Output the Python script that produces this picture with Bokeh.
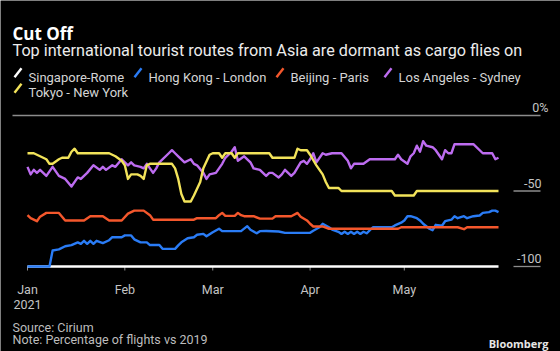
from bokeh.plotting import figure
from bokeh.models import Range1d, Label
from bokeh.embed import file_html
from bokeh.resources import INLINE
import pandas as pd

# ---------------- data (days since 2021-01-01, % of flights vs 2019 minus 100) -------------
base_date = "2021-01-01"

singapore_day = [0, 150]
singapore_val = [-100, -100]

hk_day = [0, 7, 8, 10, 12, 14, 16, 17, 18, 19, 20, 21, 22, 24, 26, 27, 30, 31, 33, 34, 36, 38,
          39, 42, 43, 47, 48, 49, 51, 53, 54, 56, 57, 59, 61, 62, 68, 70, 71, 73, 74, 76, 80, 82,
          90, 91, 93, 94, 96, 97, 99, 100, 101, 102, 103, 104, 105, 106, 107, 108, 110, 116, 117,
          119, 120, 121, 122, 124, 125, 126, 128, 129, 130, 132, 133, 135, 136, 137, 139, 140,
          142, 144, 145, 147, 148, 149, 150]
hk_val = [-100, -100, -89.4, -88.7, -86.6, -85.8, -84, -85, -83, -85, -83, -85, -83, -84.5,
          -82.6, -80.6, -80.6, -79.4, -79.4, -82, -84, -84, -85.8, -85.8, -88.3, -88.3, -86,
          -84, -81.3, -80.6, -79, -78.4, -80, -77.3, -75, -76.6, -76.6, -73.3, -75.7, -78,
          -76.6, -76.5, -76.8, -77.7, -77.7, -76.3, -74, -71.7, -74, -75.5, -77, -78.4, -77,
          -78.4, -77, -78.4, -77, -78.4, -77, -78, -74, -74, -72.8, -71, -69.5, -66.7, -66.7,
          -68, -69.5, -71.7, -75, -76, -72.4, -73, -70, -69, -66.7, -68, -66.7, -68, -66.7,
          -66.2, -64.5, -64, -63, -63, -64]

beijing_day = [0, 1, 3, 4, 6, 10, 11, 12, 18, 20, 24, 26, 30, 32, 34, 37, 39, 40, 53, 54, 60,
               61, 62, 63, 66, 67, 68, 69, 72, 74, 78, 79, 84, 86, 87, 89, 90, 91, 94, 96, 118,
               119, 137, 139, 140, 150]
beijing_val = [-66, -68, -70, -67, -64.5, -64.5, -67, -69.5, -69.5, -66.7, -66.7, -69.5, -69.5,
               -65, -63, -63, -66, -69, -69, -68, -68, -66, -64.5, -66.5, -66.5, -64.5, -66,
               -66.7, -66.7, -68.3, -68.3, -66.7, -66.7, -64.5, -67, -69.5, -71.7, -73.5, -73.5,
               -75, -75, -74, -74, -75.3, -74, -74]

la_day = [0, 1, 2, 3, 4, 6, 7, 8, 10, 12, 14, 16, 17, 19, 21, 23, 24, 25, 27, 28, 30, 32, 33,
          34, 36, 37, 38, 40, 41, 42, 45, 46, 47, 48, 50, 52, 53, 54, 56, 57, 58, 60, 62, 63,
          65, 66, 67, 69, 71, 72, 74, 76, 77, 78, 80, 81, 82, 84, 85, 87, 88, 89, 90, 91, 92,
          94, 95, 97, 100, 102, 103, 104, 107, 109, 117, 118, 119, 121, 122, 123, 124, 125,
          126, 127, 129, 130, 132, 133, 134, 135, 136, 142, 145, 148, 149, 150]
la_val = [-34, -39, -36, -38, -36, -40, -37, -34, -40, -42, -47, -41, -42, -38, -33, -36, -34,
          -36, -33, -34, -29, -33, -31, -33, -34, -35, -32, -38, -35, -31, -25, -23, -25, -27,
          -31, -29, -32, -33, -38, -42, -39, -38, -32, -28, -24, -21, -30, -27, -31, -35, -36,
          -40, -38, -38, -41, -39, -36, -40, -38, -31, -30, -32, -29, -25, -31, -25, -26, -25,
          -25, -30, -35, -32, -32, -29, -29, -26, -29, -32, -27, -25, -20, -24, -17, -20, -21,
          -23, -29, -23, -25, -25, -19, -19, -25, -25, -29, -28]

tokyo_day = [0, 2, 4, 6, 7, 8, 10, 11, 13, 14, 15, 16, 26, 28, 30, 31, 32, 33, 35, 36, 37, 38,
             39, 46, 47, 48, 49, 50, 52, 53, 55, 56, 58, 59, 61, 62, 63, 65, 66, 67, 77, 78,
             85, 86, 87, 89, 90, 92, 94, 95, 96, 99, 100, 116, 117, 123, 124, 150]
tokyo_val = [-25, -25, -27, -29, -32, -32, -29, -28, -28, -24, -22, -25, -25, -27, -30, -33,
             -42, -39, -39, -40, -42, -33, -32, -32, -35, -42, -52, -57, -57, -53, -44, -35,
             -26, -25, -25, -28, -25, -25, -28, -25, -25, -28, -28, -22, -23, -23, -26, -33,
             -39, -44, -48, -48, -50, -50, -53, -53, -50, -50]

series_names = ["Singapore-Rome", "Hong Kong - London", "Beijing - Paris",
                "Los Angeles - Sydney", "Tokyo - New York"]
series_colors = ["#ffffff", "#2a7cf6", "#f4572c", "#bd6cf0", "#f2e35a"]
series_days = [singapore_day, hk_day, beijing_day, la_day, tokyo_day]
series_vals = [singapore_val, hk_val, beijing_val, la_val, tokyo_val]

month_starts = ["2021-01-01", "2021-02-01", "2021-03-01", "2021-04-01", "2021-05-01"]
month_labels = ["Jan", "Feb", "Mar", "Apr", "May"]
year_label = "2021"
y_ticks = [0, -50, -100]
y_tick_labels = ["0%", "-50", "-100"]

title = "Cut Off"
subtitle = "Top international tourist routes from Asia are dormant as cargo flies on"
source = "Source: Cirium"
note = "Note: Percentage of flights vs 2019"
brand = "Bloomberg"

# ---------------- layout helpers (pixel -> data for text placement) ----------------
W, H = 560, 351
PX_PER_DAY = 3.14
X0_PX = 27
PX_PER_PCT = 1.51
Y0_PX = 115


def X(px):
    return (px - X0_PX) / PX_PER_DAY


def Y(py):
    return (Y0_PX - py) / PX_PER_PCT


FONT = "Roboto"
BOLD_FONT = "Open Sans"

p = figure(width=W, height=H, output_backend="svg", toolbar_location=None,
           x_axis_type=None, y_axis_type=None,
           x_range=Range1d(X(0), X(W)), y_range=Range1d(Y(H), Y(0)),
           min_border=0, background_fill_color="black", border_fill_color="black",
           outline_line_color=None)
p.grid.visible = False

# zero gridline and right-hand tick stubs
p.segment(x0=[X(12)], x1=[X(540)], y0=[y_ticks[0]], y1=[y_ticks[0]],
          line_color="#8c8c8c", line_width=1.3)
p.segment(x0=[X(513)] * 2, x1=[X(540)] * 2, y0=y_ticks[1:], y1=y_ticks[1:],
          line_color="#8c8c8c", line_width=1.3)
for yv, lab in zip(y_ticks, y_tick_labels):
    right = 548 if lab.endswith("%") else 541
    p.add_layout(Label(x=X(right), y=yv, text=lab, text_align="right",
                       text_baseline="alphabetic", y_offset=8,
                       text_color="#c4c4c4", text_font=FONT, text_font_size="12.5px"))

# month ticks + labels
base = pd.Timestamp(base_date)
month_days = [(pd.Timestamp(m) - base).days for m in month_starts]
p.segment(x0=month_days, x1=month_days, y0=[-100] * 5, y1=[Y(270)] * 5,
          line_color="#8c8c8c", line_width=1)
for d, lab in zip(month_days, month_labels):
    p.add_layout(Label(x=d, y=Y(289), text=lab, text_align="center",
                       text_baseline="alphabetic", text_color="#c4c4c4",
                       text_font=FONT, text_font_size="12.5px"))
p.add_layout(Label(x=month_days[0], y=Y(304), text=year_label, text_align="center",
                   text_baseline="alphabetic", text_color="#c4c4c4",
                   text_font=FONT, text_font_size="12.5px"))

# series
for d, v, c in zip(series_days, series_vals, series_colors):
    p.line(d, v, line_color=c, line_width=2.4, line_join="round")

# titles
p.add_layout(Label(x=X(12), y=Y(32.7), text=title, text_baseline="alphabetic",
                   text_color="#ffffff", text_font=BOLD_FONT, text_font_style="bold",
                   text_font_size="17px"))
p.add_layout(Label(x=X(12), y=Y(50), text=subtitle, text_baseline="alphabetic",
                   text_color="#ececec", text_font=FONT, text_font_size="16.2px"))

# legend (custom, Bloomberg style slash keys)
legend_pos = [(28, 76.7), (148, 76.7), (290, 76.7), (398, 76.7), (28, 92.3)]
for (tx, by), name, c in zip(legend_pos, series_names, series_colors):
    p.segment(x0=[X(tx - 14)], y0=[Y(by)], x1=[X(tx - 7)], y1=[Y(by - 9)],
              line_color=c, line_width=2.4)
    p.add_layout(Label(x=X(tx), y=Y(by), text=name, text_baseline="alphabetic",
                       text_color="#d4d4d4", text_font=FONT, text_font_size="13px"))

# footer
p.add_layout(Label(x=X(12), y=Y(327), text=source, text_baseline="alphabetic",
                   text_color="#bdbdbd", text_font=FONT, text_font_size="12.5px"))
p.add_layout(Label(x=X(12), y=Y(338.5), text=note, text_baseline="alphabetic",
                   text_color="#bdbdbd", text_font=FONT, text_font_size="12.5px"))
p.add_layout(Label(x=X(548), y=Y(343), text=brand, text_align="right",
                   text_baseline="alphabetic", text_color="#e6e6e6", text_font=BOLD_FONT,
                   text_font_style="bold", text_font_size="11px"))

open("out.html", "w").write(file_html(p, INLINE))
